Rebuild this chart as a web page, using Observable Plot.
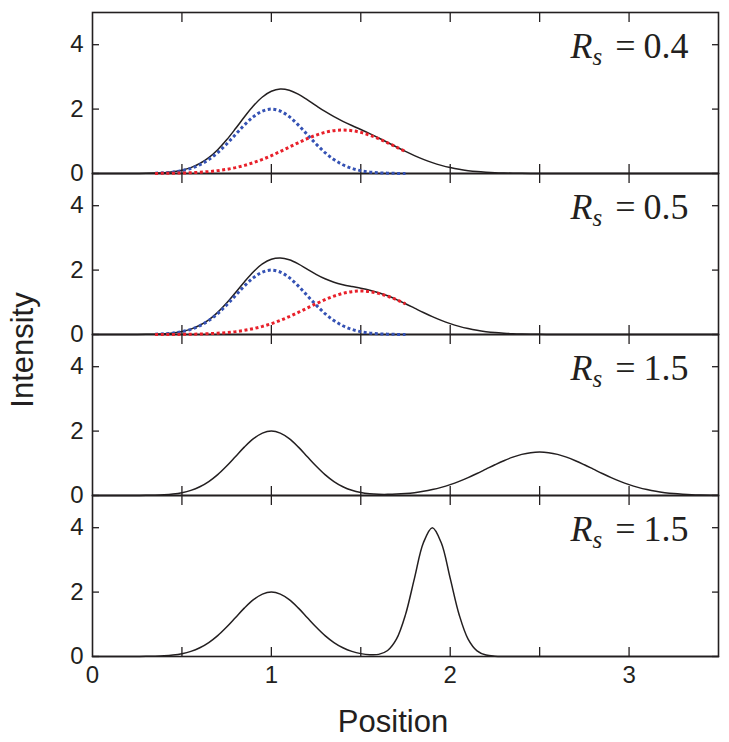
<!DOCTYPE html>
<html>
<head>
<meta charset="utf-8">
<script src="https://cdn.jsdelivr.net/npm/d3@7"></script>
<script src="https://cdn.jsdelivr.net/npm/@observablehq/plot@0.6"></script>
<style>
  body { margin: 0; background: #fff; }
</style>
</head>
<body>
<div id="chart"></div>
<script>
// ---- data ----
const panels = ["a", "b", "c", "d"];
const rsLabels = ["0.4", "0.5", "1.5", "1.5"];
const xTitle = "Position";
const yTitle = "Intensity";

const xs = [0,0.05,0.1,0.15,0.2,0.25,0.3,0.35,0.4,0.45,0.5,0.55,0.6,0.65,0.7,0.75,0.8,0.85,0.9,0.95,1,
  1.05,1.1,1.15,1.2,1.25,1.3,1.35,1.4,1.45,1.5,1.55,1.6,1.65,1.7,1.75,1.8,1.85,1.9,1.95,2,
  2.05,2.1,2.15,2.2,2.25,2.3,2.35,2.4,2.45,2.5,2.55,2.6,2.65,2.7,2.75,2.8,2.85,2.9,2.95,3,
  3.05,3.1,3.15,3.2,3.25,3.3,3.35,3.4,3.45,3.5];

const sum1 = [0,0,0,0,0.001,0.003,0.006,0.013,0.027,0.055,0.103,0.183,0.310,0.492,0.738,1.045,1.396,1.762,2.102,2.376,2.555,
  2.622,2.584,2.464,2.294,2.107,1.926,1.764,1.621,1.490,1.365,1.237,1.103,0.964,0.823,0.685,0.556,0.439,0.337,0.252,0.183,
  0.129,0.089,0.059,0.039,0.024,0.015,0.009,0.005,0.003,0.002,0.001,0.001,0,0,0,0,0,0,0,0,
  0,0,0,0,0,0,0,0,0,0];

const sum2 = [0,0,0,0,0.001,0.002,0.005,0.011,0.024,0.049,0.093,0.168,0.286,0.457,0.688,0.975,1.302,1.639,1.948,2.190,2.337,
  2.376,2.320,2.194,2.032,1.870,1.730,1.624,1.548,1.490,1.438,1.377,1.299,1.202,1.085,0.956,0.820,0.684,0.555,0.438,0.337,
  0.252,0.183,0.129,0.089,0.059,0.039,0.024,0.015,0.009,0.005,0.003,0.002,0.001,0.001,0,0,0,0,0,0,
  0,0,0,0,0,0,0,0,0,0];

const sum3 = [0,0,0,0,0.001,0.002,0.004,0.010,0.022,0.046,0.088,0.159,0.271,0.433,0.649,0.916,1.213,1.510,1.765,1.938,2.000,
  1.938,1.765,1.510,1.213,0.916,0.650,0.434,0.273,0.162,0.093,0.055,0.037,0.035,0.043,0.061,0.089,0.129,0.183,0.252,0.337,
  0.438,0.555,0.684,0.819,0.954,1.081,1.191,1.277,1.331,1.350,1.331,1.277,1.191,1.081,0.954,0.819,0.684,0.555,0.438,0.337,
  0.252,0.183,0.129,0.089,0.059,0.039,0.024,0.015,0.009,0.005];

const sum4 = [0,0,0,0,0.001,0.002,0.004,0.010,0.022,0.046,0.088,0.159,0.271,0.433,0.649,0.916,1.213,1.510,1.765,1.938,2.000,
  1.938,1.765,1.510,1.213,0.916,0.649,0.433,0.271,0.159,0.089,0.055,0.066,0.186,0.545,1.301,2.427,3.530,4.000,3.530,2.426,
  1.299,0.541,0.176,0.044,0.009,0.001,0,0,0,0,0,0,0,0,0,0,0,0,0,0,
  0,0,0,0,0,0,0,0,0,0];

// dotted component peaks (panels a and b)
const compXs = [0.35,0.4,0.45,0.5,0.55,0.6,0.65,0.7,0.75,0.8,0.85,0.9,0.95,1,1.05,1.1,1.15,1.2,1.25,1.3,1.35,1.4,1.45,1.5,1.55,1.6,1.65,1.7,1.75];
const blueComp = [0.010,0.022,0.046,0.088,0.159,0.271,0.433,0.649,0.916,1.213,1.510,1.765,1.938,2.000,1.938,1.765,1.510,1.213,0.916,0.649,0.433,0.271,0.159,0.088,0.046,0.022,0.010,0.004,0.002];
const red1 = [0.003,0.005,0.009,0.015,0.024,0.039,0.059,0.089,0.129,0.183,0.252,0.337,0.438,0.555,0.684,0.819,0.954,1.081,1.191,1.277,1.331,1.350,1.331,1.277,1.191,1.081,0.954,0.819,0.684];
const red2 = [0.001,0.002,0.003,0.005,0.009,0.015,0.024,0.039,0.059,0.089,0.129,0.183,0.252,0.337,0.438,0.555,0.684,0.819,0.954,1.081,1.191,1.277,1.331,1.350,1.331,1.277,1.191,1.081,0.954];

const xTicks = [0.5, 1, 1.5, 2, 2.5, 3];
const xLabelTicks = [0, 1, 2, 3];
const yTicks = [0, 2, 4];

// ---- tables ----
const sums = [sum1, sum2, sum3, sum4];
const sumRows = panels.flatMap((p, k) => xs.map((x, i) => ({panel: p, x, y: sums[k][i]})));
const blueRows = ["a", "b"].flatMap(p => compXs.map((x, i) => ({panel: p, x, y: blueComp[i]})));
const redRows = [
  ...compXs.map((x, i) => ({panel: "a", x, y: red1[i]})),
  ...compXs.map((x, i) => ({panel: "b", x, y: red2[i]}))
];
const labelRows = panels.map((p, k) => ({panel: p, label: rsLabels[k]}));

const ink = "#231f20";
const sans = "'Liberation Sans', Arial, Helvetica, sans-serif";
const serif = "'Liberation Serif', 'Times New Roman', serif";
const fmt = d => String(d);

const plot = Plot.plot({
  width: 729,
  height: 742,
  marginTop: 10,
  marginBottom: 85,
  marginLeft: 92,
  marginRight: 11,
  style: {fontFamily: sans, background: "#fff", color: ink},
  x: {domain: [0, 3.5]},
  y: {domain: [0, 5]},
  fy: {domain: panels, padding: 0, axis: null},
  marks: [
    // inward ticks, repeated on every panel
    Plot.axisX({anchor: "bottom", ticks: xTicks, tickSize: 9, dy: -9, tickFormat: () => "", facetAnchor: null, label: null, strokeWidth: 1.3}),
    Plot.axisX({anchor: "top", ticks: xTicks, tickSize: 9, dy: 9, tickFormat: () => "", facetAnchor: null, label: null, strokeWidth: 1.3}),
    Plot.axisY({anchor: "left", ticks: yTicks, tickSize: 7, dx: 7, tickFormat: () => "", label: null, strokeWidth: 1.3}),
    Plot.axisY({anchor: "right", ticks: yTicks, tickSize: 7, dx: -7, tickFormat: () => "", facetAnchor: null, label: null, strokeWidth: 1.3}),
    // tick labels
    Plot.axisY({anchor: "left", ticks: yTicks, tickSize: 0, tickPadding: 9, tickFormat: fmt, fontSize: 24, label: null}),
    Plot.axisX({anchor: "bottom", ticks: xLabelTicks, tickSize: 0, tickPadding: 9, tickFormat: fmt, fontSize: 24, label: null}),
    Plot.frame({stroke: ink, strokeWidth: 1.6}),
    Plot.line(sumRows, {x: "x", y: "y", fy: "panel", stroke: ink, strokeWidth: 1.5, curve: "catmull-rom"}),
    Plot.line(blueRows, {x: "x", y: "y", fy: "panel", stroke: "#3552b4", strokeWidth: 3, strokeDasharray: "3,2.6", strokeLinecap: "butt", strokeLinejoin: "miter", curve: "catmull-rom"}),
    Plot.line(redRows, {x: "x", y: "y", fy: "panel", stroke: "#e8202a", strokeWidth: 3, strokeDasharray: "3,2.6", strokeLinecap: "butt", strokeLinejoin: "miter", curve: "catmull-rom"}),
    Plot.text(labelRows, {fy: "panel", text: "label", frameAnchor: "top-right", dx: -30, dy: 45, textAnchor: "end", lineAnchor: "bottom", fontFamily: serif, fontSize: 36, fill: ink})
  ]
});

document.getElementById("chart").appendChild(plot);

// rebuild the R_s labels with italic R and subscript s
d3.select(plot).selectAll('g[aria-label="text"] text').each(function() {
  const val = this.textContent;
  const t = d3.select(this);
  t.text(null);
  t.append("tspan").attr("font-style", "italic").text("R");
  t.append("tspan").attr("font-style", "italic").attr("font-size", 25).attr("dy", 7).text("s");
  t.append("tspan").attr("dy", -7).attr("dx", 13).text("=");
  t.append("tspan").attr("dx", 8).text(val);
});

const svg = d3.select(plot);
svg.append("text")
  .attr("transform", "translate(33,350) rotate(-90)")
  .attr("text-anchor", "middle")
  .attr("font-size", 31)
  .attr("fill", ink)
  .text(yTitle);
svg.append("text")
  .attr("x", 393)
  .attr("y", 732)
  .attr("text-anchor", "middle")
  .attr("font-size", 31)
  .attr("fill", ink)
  .text(xTitle);
</script>
</body>
</html>
